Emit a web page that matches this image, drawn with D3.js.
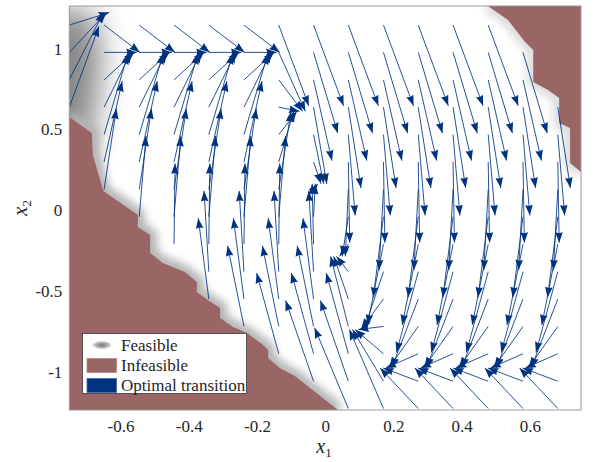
<!DOCTYPE html>
<meta charset="utf-8">
<head>
<style>
body { margin: 0; background: #fff; }
text { font-family: "Liberation Serif", "Times New Roman", serif; fill: #262626; }
</style>
<script src="https://d3js.org/d3.v7.min.js"></script>
</head>
<body>
<div id="chart"></div>
<script>
// state grid: x1 columns and x2 rows
var x1Grid = [-0.75, -0.648, -0.545, -0.443, -0.341, -0.238, -0.136, -0.034, 0.068, 0.171, 0.273, 0.375, 0.478, 0.58, 0.682];
var x2Grid = [-1.241, -1.072, -0.902, -0.733, -0.563, -0.394, -0.224, -0.054, 0.115, 0.285, 0.454, 0.624, 0.793, 0.963, 1.132];

// optimal next state, one row per x1 column (x2 from bottom to top), null = infeasible
var n = null;
var nextX1 = [
  [n, n, n, n, n, n, n, n, n, n, n, -0.663, -0.650, -0.641, -0.633],
  [n, n, n, n, n, n, n, n, -0.612, -0.595, -0.578, -0.569, -0.560, -0.552, -0.543],
  [n, n, n, n, n, n, n, -0.525, -0.509, -0.492, -0.475, -0.466, -0.457, -0.449, -0.440],
  [n, n, n, n, n, n, -0.440, -0.423, -0.407, -0.390, -0.373, -0.364, -0.355, -0.347, -0.338],
  [n, n, n, n, -0.372, -0.355, -0.338, -0.321, -0.305, -0.288, -0.271, -0.262, -0.253, -0.245, -0.236],
  [n, n, n, -0.286, -0.269, -0.252, -0.235, -0.218, -0.202, -0.185, -0.168, -0.159, -0.150, -0.142, -0.133],
  [n, n, -0.201, -0.184, -0.167, -0.150, -0.133, -0.116, -0.100, -0.092, -0.083, -0.075, -0.066, -0.058, -0.048],
  [n, -0.116, -0.099, -0.082, -0.065, -0.048, -0.038, -0.029, -0.021, -0.012, -0.004, 0.005, 0.020, 0.037, 0.054],
  [-0.031, -0.014, 0.003, 0.016, 0.025, 0.033, 0.042, 0.050, 0.059, 0.072, 0.088, 0.105, 0.122, 0.139, 0.156],
  [0.071, 0.080, 0.088, 0.097, 0.105, 0.114, 0.124, 0.141, 0.158, 0.175, 0.191, 0.208, 0.225, 0.242, 0.259],
  [0.161, 0.170, 0.178, 0.187, 0.195, 0.209, 0.226, 0.243, 0.260, 0.277, 0.293, 0.310, 0.327, 0.344, 0.361],
  [0.263, 0.272, 0.280, 0.289, 0.297, 0.311, 0.328, 0.345, 0.362, 0.379, 0.395, 0.412, 0.429, 0.446, 0.463],
  [0.366, 0.375, 0.383, 0.392, 0.400, 0.414, 0.431, 0.448, 0.465, 0.482, 0.498, 0.515, 0.532, 0.549, 0.566],
  [0.468, 0.477, 0.485, 0.494, 0.502, 0.516, 0.533, 0.550, 0.567, 0.584, 0.600, 0.617, 0.634, 0.651, n],
  [0.570, 0.579, 0.587, 0.596, 0.604, 0.618, 0.635, 0.652, 0.669, 0.686, 0.702, 0.719, n, n, n]
];
var nextX2 = [
  [n, n, n, n, n, n, n, n, n, n, n, 1.124, 1.21, 1.21, 1.21],
  [n, n, n, n, n, n, n, n, 0.615, 0.785, 0.954, 0.963, 0.963, 0.963, 0.963],
  [n, n, n, n, n, n, n, 0.446, 0.615, 0.785, 0.954, 0.963, 0.963, 0.963, 0.963],
  [n, n, n, n, n, n, 0.276, 0.446, 0.615, 0.785, 0.954, 0.963, 0.963, 0.963, 0.963],
  [n, n, n, n, -0.063, 0.106, 0.276, 0.446, 0.615, 0.785, 0.954, 0.963, 0.963, 0.963, 0.963],
  [n, n, n, -0.233, -0.063, 0.106, 0.276, 0.446, 0.615, 0.785, 0.954, 0.963, 0.963, 0.963, 0.963],
  [n, n, -0.402, -0.233, -0.063, 0.106, 0.276, 0.446, 0.598, 0.598, 0.598, 0.598, 0.598, 0.598, 0.632],
  [n, -0.572, -0.402, -0.233, -0.063, 0.106, 0.150, 0.150, 0.150, 0.150, 0.150, 0.150, 0.293, 0.463, 0.632],
  [-0.741, -0.572, -0.402, -0.299, -0.299, -0.299, -0.299, -0.299, -0.299, -0.215, -0.046, 0.124, 0.293, 0.463, 0.632],
  [-0.752, -0.752, -0.752, -0.752, -0.752, -0.752, -0.724, -0.554, -0.385, -0.215, -0.046, 0.124, 0.293, 0.463, 0.632],
  [-0.99, -0.99, -0.99, -0.99, -0.99, -0.894, -0.724, -0.554, -0.385, -0.215, -0.046, 0.124, 0.293, 0.463, 0.632],
  [-0.99, -0.99, -0.99, -0.99, -0.99, -0.894, -0.724, -0.554, -0.385, -0.215, -0.046, 0.124, 0.293, 0.463, 0.632],
  [-0.99, -0.99, -0.99, -0.99, -0.99, -0.894, -0.724, -0.554, -0.385, -0.215, -0.046, 0.124, 0.293, 0.463, 0.632],
  [-0.99, -0.99, -0.99, -0.99, -0.99, -0.894, -0.724, -0.554, -0.385, -0.215, -0.046, 0.124, 0.293, 0.463, n],
  [-0.99, -0.99, -0.99, -0.99, -0.99, -0.894, -0.724, -0.554, -0.385, -0.215, -0.046, 0.124, n, n, n]
];

// infeasible regions, outlines in state coordinates
var infeasibleLow = [[-0.75, 0.563], [-0.684, 0.464], [-0.681, 0.328], [-0.650, 0.105], [-0.549, -0.043],
  [-0.549, -0.118], [-0.513, -0.167], [-0.513, -0.278], [-0.476, -0.340], [-0.411, -0.396], [-0.376, -0.458],
  [-0.376, -0.520], [-0.344, -0.569], [-0.308, -0.619], [-0.308, -0.681], [-0.270, -0.736], [-0.229, -0.774],
  [-0.185, -0.842], [-0.167, -0.879], [-0.167, -0.928], [-0.133, -0.990], [-0.089, -1.040], [0.038, -1.25]];
var infeasibleHigh = [[0.477, 1.25], [0.536, 1.163], [0.586, 1.027], [0.610, 0.978], [0.610, 0.780],
  [0.653, 0.730], [0.686, 0.681], [0.686, 0.526], [0.718, 0.495], [0.718, 0.278], [0.75, 0.223]];

var xTicks = [-0.6, -0.4, -0.2, 0, 0.2, 0.4, 0.6];
var yTicks = [-1, -0.5, 0, 0.5, 1];
var legendLabels = ["Feasible", "Infeasible", "Optimal transition"];

var width = 595,
    height = 462,
    plotLeft = 69.3, plotRight = 581, plotTop = 6, plotBottom = 410;

var infeasibleColor = "#9a6665",
    arrowColor = "#00337f";

var x = d3.scaleLinear().domain([-0.75, 0.75]).range([plotLeft, plotRight]);
var y = d3.scaleLinear().domain([-1.25, 1.25]).range([plotBottom, plotTop]);

var svg = d3.select("#chart").append("svg")
    .attr("width", width)
    .attr("height", height);

var defs = svg.append("defs");
defs.append("clipPath").attr("id", "plotClip")
  .append("rect")
    .attr("x", plotLeft).attr("y", plotTop)
    .attr("width", plotRight - plotLeft).attr("height", plotBottom - plotTop);
[["blurBig", 15], ["blurSmall", 4.5]].forEach(function(f) {
  defs.append("filter").attr("id", f[0])
      .attr("x", "-50%").attr("y", "-50%").attr("width", "200%").attr("height", "200%")
    .append("feGaussianBlur").attr("stdDeviation", f[1]);
});
var grad = defs.append("radialGradient").attr("id", "feasGrad");
grad.append("stop").attr("offset", "0%").attr("stop-color", "#7a7a7a");
grad.append("stop").attr("offset", "55%").attr("stop-color", "#a8a8a8");
grad.append("stop").attr("offset", "100%").attr("stop-color", "#e4e4e4");

var line = d3.line().x(function(d) { return x(d[0]); }).y(function(d) { return y(d[1]); });

var plot = svg.append("g").attr("clip-path", "url(#plotClip)");
plot.append("rect")
    .attr("x", plotLeft).attr("y", plotTop)
    .attr("width", plotRight - plotLeft).attr("height", plotBottom - plotTop)
    .attr("fill", "#fff");

// gray shading of the feasible set near its edges
plot.append("path")
    .attr("d", line([[-0.88, 1.22], [-0.68, 1.22], [-0.655, 0.95], [-0.67, 0.62], [-0.70, 0.30], [-0.88, 0.30]]) + "Z")
    .attr("fill", "#888")
    .attr("filter", "url(#blurBig)");
plot.append("path")
    .attr("d", line(infeasibleLow))
    .attr("fill", "none")
    .attr("stroke", "#b4b4b4")
    .attr("stroke-width", 14)
    .attr("filter", "url(#blurSmall)");
plot.append("path")
    .attr("d", line(infeasibleHigh))
    .attr("fill", "none")
    .attr("stroke", "#dadada")
    .attr("stroke-width", 12)
    .attr("filter", "url(#blurSmall)");

// infeasible regions
plot.append("path")
    .attr("d", line(infeasibleLow.concat([[-0.75, -1.25]])) + "Z")
    .attr("fill", infeasibleColor);
plot.append("path")
    .attr("d", line(infeasibleHigh.concat([[0.75, 1.25]])) + "Z")
    .attr("fill", infeasibleColor);

// transitions
var moves = [];
x1Grid.forEach(function(x1, i) {
  x2Grid.forEach(function(x2, j) {
    if (nextX1[i][j] !== null) moves.push({x1: x1, x2: x2, nx1: nextX1[i][j], nx2: nextX2[i][j]});
  });
});

var arrows = plot.append("g");
arrows.selectAll("line")
  .data(moves)
  .enter().append("line")
    .attr("x1", function(d) { return x(d.x1); })
    .attr("y1", function(d) { return y(d.x2); })
    .attr("x2", function(d) { return x(d.nx1); })
    .attr("y2", function(d) { return y(d.nx2); })
    .attr("stroke", arrowColor)
    .attr("stroke-width", 0.85);

arrows.selectAll("path")
  .data(moves)
  .enter().append("path")
    .attr("fill", arrowColor)
    .attr("d", function(d) {
      var tx = x(d.nx1), ty = y(d.nx2);
      var dx = tx - x(d.x1), dy = ty - y(d.x2);
      var len = Math.sqrt(dx * dx + dy * dy) || 1;
      var ux = dx / len, uy = dy / len;
      var L = 10.5, W = 3.8, notch = 9.5;
      return "M" + tx + "," + ty +
        "L" + (tx - L * ux + W * uy) + "," + (ty - L * uy - W * ux) +
        "L" + (tx - notch * ux) + "," + (ty - notch * uy) +
        "L" + (tx - L * ux - W * uy) + "," + (ty - L * uy + W * ux) + "Z";
    });

// frame
svg.append("rect")
    .attr("x", plotLeft).attr("y", plotTop)
    .attr("width", plotRight - plotLeft).attr("height", plotBottom - plotTop)
    .attr("fill", "none")
    .attr("stroke", "#9a9a9a")
    .attr("stroke-width", 1);

// axes
var xAxis = svg.append("g")
    .attr("transform", "translate(0," + plotBottom + ")")
    .call(d3.axisBottom(x).tickValues(xTicks).tickSize(0).tickPadding(10).tickFormat(function(d) { return String(d); }));
var yAxis = svg.append("g")
    .attr("transform", "translate(" + plotLeft + ",0)")
    .call(d3.axisLeft(y).tickValues(yTicks).tickSize(0).tickPadding(7).tickFormat(function(d) { return String(d); }));
[xAxis, yAxis].forEach(function(a) {
  a.select(".domain").remove();
  a.selectAll("text")
      .attr("font-family", "'Liberation Serif', 'Times New Roman', serif")
      .attr("font-size", 17)
      .attr("fill", "#262626");
});
yAxis.selectAll("text").attr("dy", "0.45em");

var xLabel = svg.append("text")
    .attr("x", 324)
    .attr("y", 453)
    .attr("text-anchor", "middle")
    .attr("font-size", 20);
xLabel.append("tspan").attr("font-style", "italic").text("x");
xLabel.append("tspan").attr("font-size", 13).attr("dy", 4).text("1");

var yLabel = svg.append("text")
    .attr("transform", "translate(27,208) rotate(-90)")
    .attr("text-anchor", "middle")
    .attr("font-size", 21);
yLabel.append("tspan").attr("font-style", "italic").text("x");
yLabel.append("tspan").attr("font-size", 13).attr("dy", 4).text("2");

// legend
var legend = svg.append("g").attr("transform", "translate(82.5,333.5)");
legend.append("rect")
    .attr("width", 164)
    .attr("height", 60)
    .attr("fill", "#fff")
    .attr("stroke", "#3a3a3a")
    .attr("stroke-width", 0.8);
legend.append("ellipse")
    .attr("cx", 19.5).attr("cy", 11.5)
    .attr("rx", 9.5).attr("ry", 4)
    .attr("fill", "url(#feasGrad)");
legend.append("rect")
    .attr("x", 4.5).attr("y", 25)
    .attr("width", 29.5).attr("height", 14)
    .attr("fill", infeasibleColor)
    .attr("stroke", "#b48886")
    .attr("stroke-width", 0.8);
legend.append("rect")
    .attr("x", 4.5).attr("y", 45)
    .attr("width", 29.5).attr("height", 14)
    .attr("fill", arrowColor)
    .attr("stroke", "#4a68a0")
    .attr("stroke-width", 0.8);
legend.selectAll("text.lab")
  .data(legendLabels)
  .enter().append("text")
    .attr("class", "lab")
    .attr("x", 38.5)
    .attr("y", function(d, i) { return 17 + i * 20.3; })
    .attr("font-size", 17)
    .text(function(d) { return d; });
</script>
</body>
